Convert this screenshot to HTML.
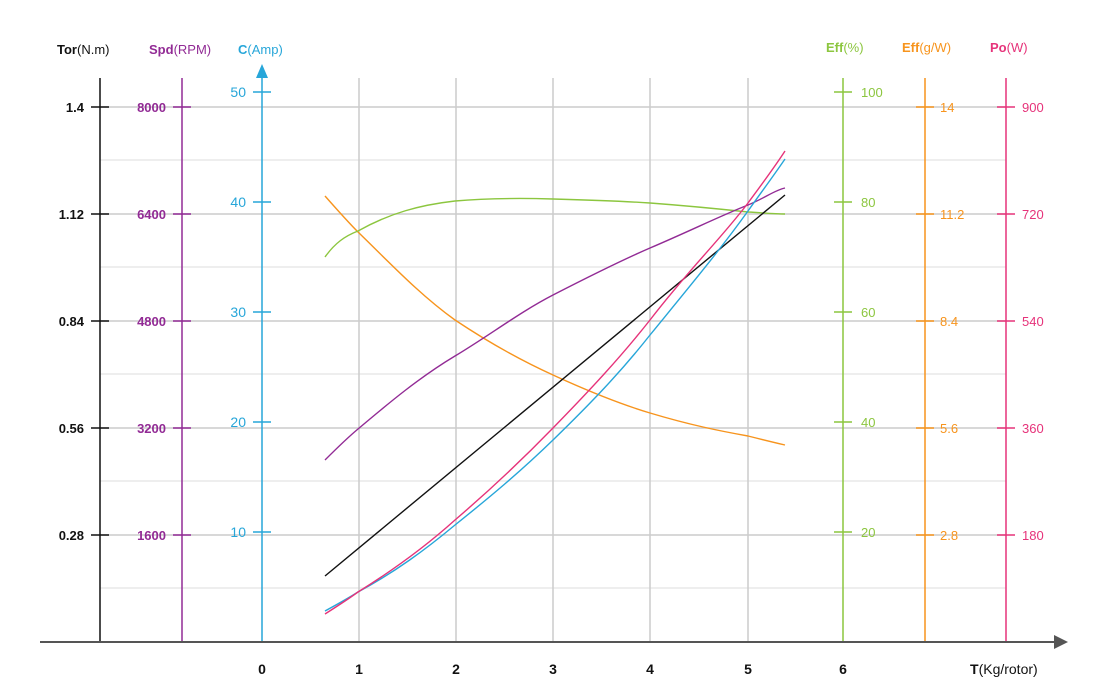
<!DOCTYPE html>
<html><head><meta charset="utf-8"><style>
html,body{margin:0;padding:0;background:#fff;}
svg{display:block;font-family:"Liberation Sans",sans-serif;}
</style></head><body>
<svg width="1114" height="700" viewBox="0 0 1114 700" xmlns="http://www.w3.org/2000/svg">
<!-- minor grid -->
<g stroke="#eeeeee" stroke-width="2">
<line x1="100" y1="160" x2="1006" y2="160"/><line x1="100" y1="267" x2="1006" y2="267"/>
<line x1="100" y1="374" x2="1006" y2="374"/><line x1="100" y1="481" x2="1006" y2="481"/>
<line x1="100" y1="588" x2="1006" y2="588"/>
</g>
<g stroke="#cccccc" stroke-width="1.5">
<line x1="100" y1="107" x2="1006" y2="107"/><line x1="100" y1="214" x2="1006" y2="214"/>
<line x1="100" y1="321" x2="1006" y2="321"/><line x1="100" y1="428" x2="1006" y2="428"/>
<line x1="100" y1="535" x2="1006" y2="535"/>
<line x1="359" y1="78" x2="359" y2="642"/><line x1="456" y1="78" x2="456" y2="642"/>
<line x1="553" y1="78" x2="553" y2="642"/><line x1="650" y1="78" x2="650" y2="642"/>
<line x1="748" y1="78" x2="748" y2="642"/>
</g>
<!-- axes -->
<line x1="100" y1="78" x2="100" y2="642" stroke="#111" stroke-width="1.5"/>
<line x1="182" y1="78" x2="182" y2="642" stroke="#922b95" stroke-width="1.5"/>
<line x1="262" y1="74" x2="262" y2="642" stroke="#27a6d9" stroke-width="1.5"/>
<polygon points="262,64 256,78 268,78" fill="#27a6d9"/>
<line x1="843" y1="78" x2="843" y2="642" stroke="#8cc63f" stroke-width="1.5"/>
<line x1="925" y1="78" x2="925" y2="642" stroke="#f7941d" stroke-width="1.5"/>
<line x1="1006" y1="78" x2="1006" y2="642" stroke="#e6337a" stroke-width="1.5"/>
<line x1="40" y1="642" x2="1058" y2="642" stroke="#555" stroke-width="2"/>
<polygon points="1068,642 1054,635 1054,649" fill="#555"/>
<!-- ticks -->
<g stroke="#111" stroke-width="1.5"><line x1="91" y1="107" x2="109" y2="107"/><line x1="91" y1="214" x2="109" y2="214"/><line x1="91" y1="321" x2="109" y2="321"/><line x1="91" y1="428" x2="109" y2="428"/><line x1="91" y1="535" x2="109" y2="535"/></g>
<g stroke="#922b95" stroke-width="1.5"><line x1="173" y1="107" x2="191" y2="107"/><line x1="173" y1="214" x2="191" y2="214"/><line x1="173" y1="321" x2="191" y2="321"/><line x1="173" y1="428" x2="191" y2="428"/><line x1="173" y1="535" x2="191" y2="535"/></g>
<g stroke="#27a6d9" stroke-width="1.5"><line x1="253" y1="92" x2="271" y2="92"/><line x1="253" y1="202" x2="271" y2="202"/><line x1="253" y1="312" x2="271" y2="312"/><line x1="253" y1="422" x2="271" y2="422"/><line x1="253" y1="532" x2="271" y2="532"/></g>
<g stroke="#8cc63f" stroke-width="1.5"><line x1="834" y1="92" x2="852" y2="92"/><line x1="834" y1="202" x2="852" y2="202"/><line x1="834" y1="312" x2="852" y2="312"/><line x1="834" y1="422" x2="852" y2="422"/><line x1="834" y1="532" x2="852" y2="532"/></g>
<g stroke="#f7941d" stroke-width="1.5"><line x1="916" y1="107" x2="934" y2="107"/><line x1="916" y1="214" x2="934" y2="214"/><line x1="916" y1="321" x2="934" y2="321"/><line x1="916" y1="428" x2="934" y2="428"/><line x1="916" y1="535" x2="934" y2="535"/></g>
<g stroke="#e6337a" stroke-width="1.5"><line x1="997" y1="107" x2="1015" y2="107"/><line x1="997" y1="214" x2="1015" y2="214"/><line x1="997" y1="321" x2="1015" y2="321"/><line x1="997" y1="428" x2="1015" y2="428"/><line x1="997" y1="535" x2="1015" y2="535"/></g>
<!-- tick labels -->
<g font-size="13" font-weight="bold" text-anchor="end">
<g fill="#111"><text x="84" y="112">1.4</text><text x="84" y="219">1.12</text><text x="84" y="326">0.84</text><text x="84" y="433">0.56</text><text x="84" y="540">0.28</text></g>
<g fill="#922b95"><text x="166" y="112">8000</text><text x="166" y="219">6400</text><text x="166" y="326">4800</text><text x="166" y="433">3200</text><text x="166" y="540">1600</text></g>
<g fill="#27a6d9" font-weight="normal" font-size="14"><text x="246" y="97">50</text><text x="246" y="207">40</text><text x="246" y="317">30</text><text x="246" y="427">20</text><text x="246" y="537">10</text></g>
</g>
<g font-size="13" text-anchor="start">
<g fill="#8cc63f"><text x="861" y="97">100</text><text x="861" y="207">80</text><text x="861" y="317">60</text><text x="861" y="427">40</text><text x="861" y="537">20</text></g>
<g fill="#f7941d"><text x="940" y="112">14</text><text x="940" y="219">11.2</text><text x="940" y="326">8.4</text><text x="940" y="433">5.6</text><text x="940" y="540">2.8</text></g>
<g fill="#e6337a"><text x="1022" y="112">900</text><text x="1022" y="219">720</text><text x="1022" y="326">540</text><text x="1022" y="433">360</text><text x="1022" y="540">180</text></g>
</g>
<!-- titles -->
<g font-size="13">
<text x="57" y="54" fill="#111"><tspan font-weight="bold">Tor</tspan>(N.m)</text>
<text x="149" y="54" fill="#922b95"><tspan font-weight="bold">Spd</tspan>(RPM)</text>
<text x="238" y="54" fill="#27a6d9"><tspan font-weight="bold">C</tspan>(Amp)</text>
<text x="826" y="52" fill="#8cc63f"><tspan font-weight="bold">Eff</tspan>(%)</text>
<text x="902" y="52" fill="#f7941d"><tspan font-weight="bold">Eff</tspan>(g/W)</text>
<text x="990" y="52" fill="#e6337a"><tspan font-weight="bold">Po</tspan>(W)</text>
</g>
<g font-size="14" font-weight="bold" fill="#111" text-anchor="middle">
<text x="262" y="674">0</text><text x="359" y="674">1</text><text x="456" y="674">2</text><text x="553" y="674">3</text><text x="650" y="674">4</text><text x="748" y="674">5</text><text x="843" y="674">6</text>
</g>
<text x="970" y="674" font-size="14" fill="#111"><tspan font-weight="bold">T</tspan>(Kg/rotor)</text>
<!-- series -->
<g fill="none" stroke-width="1.4">
<path d="M325,196 C340,213 348,222 358,232 C390,263 420,295 455,320 C485,340 520,360 553,375 C590,392 620,404 650,413 C690,425 720,431 748,436 C760,439 772,442 785,445" stroke="#f7941d"/>
<path d="M325,257 C335,243 345,236 358,231 C390,213 420,205 455,201 C490,198 520,198 553,199 C590,200 620,201 650,203 C690,206 720,209 748,212 C765,213 775,214 785,214" stroke="#8cc63f"/>
<path d="M325,460 C336,449 346,439 358,429 C390,402 420,377 455,356 C490,335 520,312 553,295 C590,276 620,261 650,248 C690,231 720,216 748,205 C765,198 775,190 785,188" stroke="#922b95"/>
<path d="M325,576 L785,195" stroke="#111"/>
<path d="M325,611 C336,605 347,599 358,592 C395,572 425,550 455,525 C490,497 520,472 553,440 C590,404 620,373 650,335 C690,286 720,250 748,211 C760,194 772,178 785,159" stroke="#27a6d9"/>
<path d="M325,614 C336,607 347,600 358,592 C395,569 425,547 455,520 C490,490 520,462 553,428 C590,390 620,358 650,320 C690,268 720,240 748,203 C762,184 774,168 785,151" stroke="#e6337a"/>
</g>
</svg>
</body></html>
